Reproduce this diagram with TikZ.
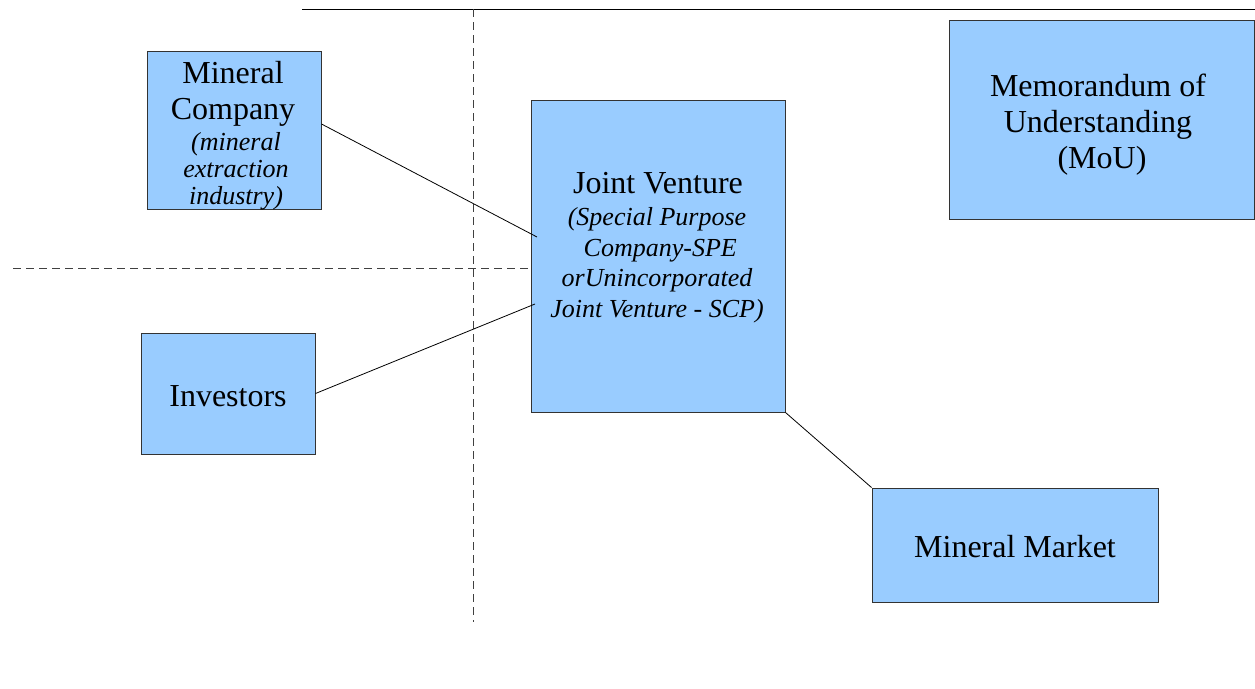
\documentclass[tikz,border=0pt]{standalone}
\usepackage{fontspec}
\setmainfont{Liberation Serif}
\begin{document}
\begin{tikzpicture}[x=1pt,y=-1pt,
  box/.style={draw=black!80,line width=1pt,fill=boxblue,inner sep=0pt},
  conn/.style={draw=black,line width=0.8pt},
  guide/.style={draw=black!75,line width=0.9pt,dash pattern=on 8pt off 5pt},
  reg/.style={font=\fontsize{32}{36}\selectfont,align=center,inner sep=0pt},
  ita/.style={font=\fontsize{26}{27}\itshape\selectfont,align=center,inner sep=0pt}]
\definecolor{boxblue}{HTML}{99CCFF}
\useasboundingbox (0,0) rectangle (1255,688);
% guide lines
\coordinate (tl) at (302,9);
\coordinate (tr) at (1255,9);
\coordinate (vt) at (473,9);
\coordinate (vb) at (473,622);
\coordinate (hl) at (13,268);
\coordinate (hr) at (531,268);
\draw[draw=black,line width=1pt] (tl) -- (tr);
\draw[guide] (vt) -- (vb);
\draw[guide] (hl) -- (hr);
% boxes
\node[box,minimum width=174pt,minimum height=158pt] (mc) at (234,130) {};
\node[box,minimum width=254pt,minimum height=312pt] (jv) at (658,256) {};
\node[box,minimum width=305pt,minimum height=199pt] (mou) at (1101.5,119.5) {};
\node[box,minimum width=174pt,minimum height=121pt] (inv) at (228,393.5) {};
\node[box,minimum width=286pt,minimum height=114pt] (mm) at (1015,545) {};
% texts (base = baseline of the last line)
\node[reg,anchor=base] (mct1) at (233,119) {Mineral\\Company};
\node[ita,anchor=base] (mct2) at (236,204) {(mineral\\extraction\\industry)};
\node[reg,anchor=base] (jvt1) at (658,193) {Joint Venture};
\node[ita,anchor=base,font=\fontsize{26}{30.5}\itshape\selectfont] (jvt2) at (657,317) {(Special Purpose\\\ Company-SPE\\orUnincorporated\\Joint Venture - SCP)};
\node[reg,anchor=base,font=\fontsize{32}{36}\selectfont] (mout) at (1098,168) {Memorandum of\\Understanding\\\ (MoU)};
\node[reg,anchor=base] (invt) at (228,406) {Investors};
\node[reg,anchor=base] (mmt) at (1015,557) {Mineral Market};
% connectors
\coordinate (jva) at (537,237);
\coordinate (jvb) at (535,304);
\draw[conn] (mc.east |- 0,124) -- (jva);
\draw[conn] (inv.east) -- (jvb);
\draw[conn] (jv.south east) -- (mm.north west);
\end{tikzpicture}
\end{document}
